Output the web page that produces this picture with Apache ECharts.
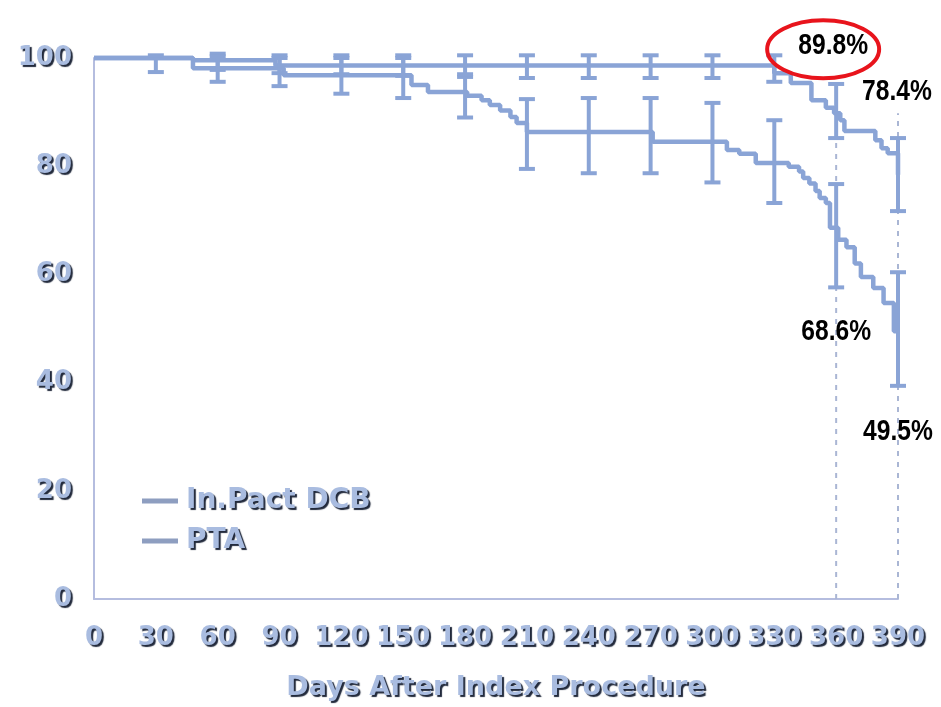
<!DOCTYPE html>
<html>
<head>
<meta charset="utf-8">
<script src="https://cdn.jsdelivr.net/npm/echarts@6/dist/echarts.min.js"></script>
<style>
  html, body { margin: 0; padding: 0; background: #ffffff; }
  #chart { width: 941px; height: 707px; }
</style>
</head>
<body>
<div id="chart"></div>
<script>
// Kaplan-Meier style freedom-from-event curves, [day, percent]; each value holds until the next day listed
const dcbCurve = [
  [0, 100], [48, 99.6], [88, 98.6], [330, 97.2], [338, 95.4], [348, 92.2],
  [355, 90.8], [359, 89.8], [362, 88.5], [364, 86.5], [379, 84.8],
  [382, 83.3], [385, 82.4], [390, 78.4]
];
const ptaCurve = [
  [0, 100], [48, 98.1], [92, 96.8], [154, 95.0], [162, 93.7], [181, 93.0],
  [188, 92.2], [192, 91.3], [197, 90.3], [202, 89.1], [205, 88.0],
  [210, 86.3], [271, 84.5], [307, 83.0], [313, 82.3], [321, 80.6],
  [337, 79.9], [342, 79.0], [344, 77.8], [347, 76.8], [350, 75.4],
  [352, 74.1], [355, 73.2], [357, 68.6], [361, 66.4], [365, 65.0],
  [369, 62.0], [372, 59.5], [378, 57.5], [383, 54.7], [388, 49.5], [390, 49.5]
];

// Confidence intervals, [day, lower, upper]
const dcbBars = [
  [30, 97.4, 100.5], [60, 97.8, 100.8], [90, 97.2, 100.5], [120, 97.0, 100.5],
  [150, 96.7, 100.5], [180, 96.5, 100.5], [210, 96.3, 100.5], [240, 96.3, 100.5],
  [270, 96.3, 100.5], [300, 96.3, 100.5], [330, 95.6, 100.5], [360, 85.2, 95.2],
  [390, 71.7, 85.2]
];
const ptaBars = [
  [60, 95.6, 100.3], [90, 94.8, 100.0], [120, 93.4, 100.0], [150, 92.6, 100.0],
  [180, 89.0, 97.0], [210, 79.5, 92.4], [240, 78.7, 92.6], [270, 78.7, 92.6],
  [300, 77.0, 91.7], [330, 73.2, 88.5], [360, 57.6, 76.7], [390, 39.4, 60.4]
];

// Values called out at the one-year and final time points
const dcbCallouts = [[360, 89.8], [390, 78.4]];
const ptaCallouts = [[360, 68.6], [390, 49.5]];

// Dotted guides dropped from the callout days, [day, top]
const guideLines = [[360, 89.8], [390, 89.8]];

const seriesNames = ['In.Pact DCB', 'PTA'];
const xTitle = 'Days After Index Procedure';

const curveColor = '#8aa4d6';
const axisColor = '#b5bddf';
const tickFont = {
  color: '#a9bce0',
  fontFamily: '"DejaVu Sans", sans-serif',
  fontWeight: 'bold',
  fontSize: 26,
  textShadowColor: '#222a3c',
  textShadowBlur: 1,
  textShadowOffsetX: 2,
  textShadowOffsetY: 2
};
const calloutFont = 'bold 30px "Liberation Sans", Arial, sans-serif';

function errorBarItem(params, api) {
  const x = api.value(0);
  const lo = api.coord([x, api.value(1)]);
  const hi = api.coord([x, api.value(2)]);
  const half = 8;
  const style = { stroke: curveColor, lineWidth: 4 };
  return {
    type: 'group',
    children: [
      { type: 'line', shape: { x1: lo[0], y1: lo[1], x2: hi[0], y2: hi[1] }, style: style },
      { type: 'line', shape: { x1: hi[0] - half, y1: hi[1], x2: hi[0] + half, y2: hi[1] }, style: style },
      { type: 'line', shape: { x1: lo[0] - half, y1: lo[1], x2: lo[0] + half, y2: lo[1] }, style: style }
    ]
  };
}

function guideItem(params, api) {
  const base = api.coord([api.value(0), 0]);
  const top = api.coord([api.value(0), api.value(1)]);
  return {
    type: 'line',
    shape: { x1: base[0], y1: base[1], x2: top[0], y2: top[1] },
    style: { stroke: '#aab6d4', lineWidth: 2, lineDash: [5, 6] }
  };
}

// label offsets (pixels from the data point) for the callouts, same order as the callout arrays
const dcbOffsets = [[-3, -67], [-1, -83]];
const ptaOffsets = [[0, 104], [0, 101]];

const chart = echarts.init(document.getElementById('chart'), null, { renderer: 'canvas' });

chart.setOption({
  animation: false,
  backgroundColor: '#ffffff',
  grid: { left: 94, right: 43, top: 58, bottom: 108 },
  legend: {
    data: seriesNames,
    orient: 'vertical',
    left: 137,
    top: 482,
    icon: 'rect',
    itemWidth: 36,
    itemHeight: 5,
    itemGap: 12,
    itemStyle: { color: '#8e9ec0' },
    textStyle: Object.assign({}, tickFont, { fontSize: 28, padding: [0, 0, 0, 3] })
  },
  xAxis: {
    type: 'value',
    min: 0,
    max: 390,
    interval: 30,
    name: xTitle,
    nameLocation: 'middle',
    nameGap: 75,
    nameTextStyle: Object.assign({}, tickFont, { fontSize: 27 }),
    axisLine: { show: true, onZero: false, lineStyle: { color: axisColor, width: 2 } },
    axisTick: { show: false },
    splitLine: { show: false },
    axisLabel: Object.assign({ margin: 26, showMaxLabel: true, showMinLabel: true }, tickFont)
  },
  yAxis: {
    type: 'value',
    min: 0,
    max: 100,
    interval: 20,
    axisLine: { show: true, onZero: false, lineStyle: { color: axisColor, width: 2 } },
    axisTick: { show: false },
    splitLine: { show: false },
    axisLabel: Object.assign({ margin: 22 }, tickFont)
  },
  series: [
    {
      name: 'guides',
      type: 'custom',
      renderItem: guideItem,
      data: guideLines,
      clip: false,
      silent: true,
      z: 1
    },
    {
      name: seriesNames[0],
      type: 'line',
      step: 'end',
      data: dcbCurve,
      showSymbol: false,
      clip: false,
      color: curveColor,
      lineStyle: { color: curveColor, width: 4.5 },
      z: 3
    },
    {
      name: seriesNames[1],
      type: 'line',
      step: 'end',
      data: ptaCurve,
      showSymbol: false,
      clip: false,
      color: curveColor,
      lineStyle: { color: curveColor, width: 4.5 },
      z: 3
    },
    {
      name: seriesNames[0] + ' CI',
      type: 'custom',
      renderItem: errorBarItem,
      data: dcbBars,
      clip: false,
      z: 4
    },
    {
      name: seriesNames[1] + ' CI',
      type: 'custom',
      renderItem: errorBarItem,
      data: ptaBars,
      clip: false,
      z: 4
    }
  ]
});

// Callout texts: placed from each value's pixel position, set in a narrowed bold face
function calloutTexts(points, offsets) {
  return points.map(function (p, i) {
    const px = chart.convertToPixel({ gridIndex: 0 }, p);
    return {
      type: 'text',
      x: px[0] + offsets[i][0],
      y: px[1] + offsets[i][1],
      scaleX: 0.82,
      z: 100,
      style: {
        text: p[1].toFixed(1) + '%',
        font: calloutFont,
        fill: '#000000',
        align: 'center',
        verticalAlign: 'middle'
      }
    };
  });
}

const ringCenter = chart.convertToPixel({ gridIndex: 0 }, dcbCallouts[0]);

chart.setOption({
  graphic: [{
    type: 'ellipse',
    shape: { cx: ringCenter[0] - 13, cy: ringCenter[1] - 64, rx: 56, ry: 29 },
    style: { fill: null, stroke: '#e8141c', lineWidth: 4 },
    z: 100
  }].concat(calloutTexts(dcbCallouts, dcbOffsets), calloutTexts(ptaCallouts, ptaOffsets))
});
</script>
</body>
</html>
